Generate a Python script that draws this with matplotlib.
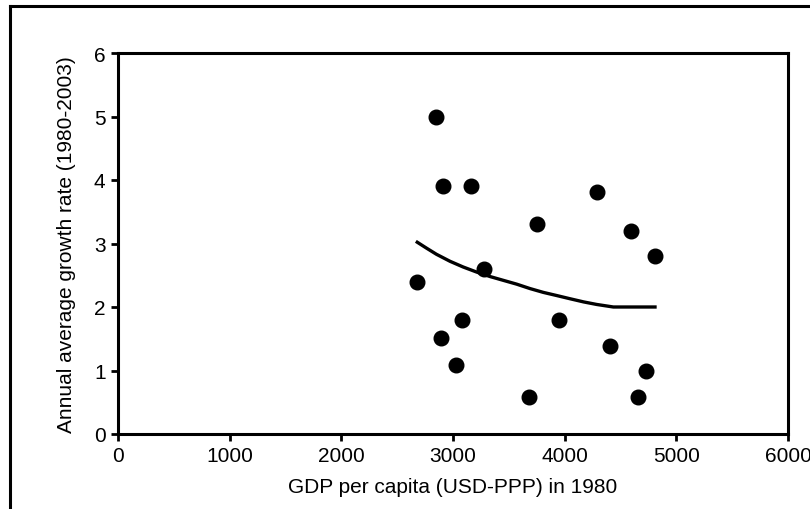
import matplotlib
matplotlib.use("Agg")
import matplotlib.pyplot as plt
from matplotlib.lines import Line2D

# scatter data
gdp_1980 = [2675, 2845, 2893, 2908, 3030, 3081, 3161, 3280, 3683, 3752,
            3952, 4290, 4406, 4590, 4660, 4725, 4809]
growth = [2.39, 5.0, 1.51, 3.9, 1.09, 1.8, 3.9, 2.6, 0.59, 3.31,
          1.8, 3.81, 1.39, 3.19, 0.59, 1.0, 2.81]

# trend line
trend_x = [2680, 2760, 2852, 2973, 3091, 3212, 3331, 3450, 3570, 3690,
           3809, 3930, 4048, 4170, 4287, 4436, 4809]
trend_y = [3.02, 2.93, 2.83, 2.72, 2.63, 2.55, 2.48, 2.42, 2.36, 2.29,
           2.23, 2.18, 2.13, 2.08, 2.04, 2.0, 2.0]

x_ticks = [0, 1000, 2000, 3000, 4000, 5000, 6000]
y_ticks = [0, 1, 2, 3, 4, 5, 6]

plt.rcParams["font.family"] = ["Liberation Sans", "DejaVu Sans"]

fig = plt.figure(figsize=(8.1, 5.1), dpi=100)
ax = fig.add_axes([118 / 810, 1 - 435 / 510, 670 / 810, 381 / 510])

ax.plot(gdp_1980, growth, "o", color="black", markersize=10.5, zorder=3)
ax.plot(trend_x, trend_y, color="black", linewidth=2.4, zorder=2)

ax.set_xlim(0, 6000)
ax.set_ylim(0, 6)
ax.set_xticks(x_ticks)
ax.set_yticks(y_ticks)
ax.tick_params(direction="out", length=5, width=2, labelsize=15, pad=4)
for sp in ax.spines.values():
    sp.set_linewidth(2.2)

ax.set_xlabel("GDP per capita (USD-PPP) in 1980", fontsize=15, labelpad=8)
ax.set_ylabel("Annual average growth rate (1980-2003)", fontsize=15, labelpad=13)

# outer frame (only left and top edges visible)
fig.add_artist(Line2D([10 / 810, 10 / 810], [0, 1 - 7 / 510], transform=fig.transFigure,
                      color="black", linewidth=2.2))
fig.add_artist(Line2D([10 / 810, 1], [1 - 7 / 510, 1 - 7 / 510], transform=fig.transFigure,
                      color="black", linewidth=2.2))

fig.savefig("out.png", dpi=100)
